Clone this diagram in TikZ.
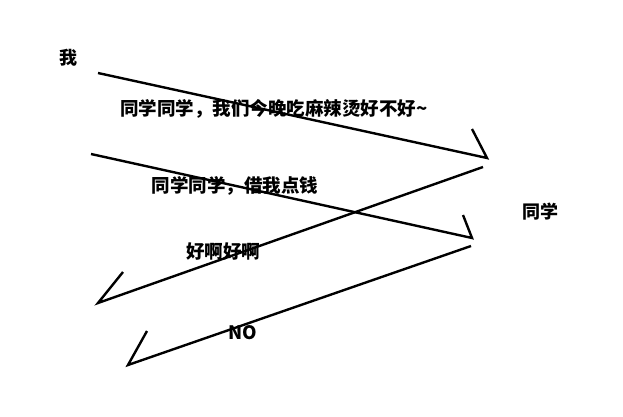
\documentclass[tikz,border=0pt]{standalone}
\usepackage{fontspec}
\newfontfamily\cjk{Noto Sans CJK SC}
\usepackage{tikz}

\begin{document}
\begin{tikzpicture}[x=1pt, y=-1pt,
        who/.style={font=\cjk\bfseries\fontsize{18}{20}\selectfont, inner sep=0pt},
        msg/.style={font=\cjk\bfseries\fontsize{18.5}{21}\selectfont, inner sep=0pt},
        sketch/.style={line width=2.4pt, line join=miter}]
        \useasboundingbox (0,0) rectangle (623,417);

        % People
        \node[who] (me) at (68,58) {我};
        \node[who] (mate) at (540,212) {同学};

        % Ends of the strokes
        \coordinate (s1) at (98,73);   \coordinate (e1) at (487,158); \coordinate (b1) at (472,129);
        \coordinate (s2) at (91,154);  \coordinate (e2) at (472,238); \coordinate (b2) at (463,215);
        \coordinate (s3) at (483,167); \coordinate (e3) at (98,303);  \coordinate (b3) at (123,272);
        \coordinate (s4) at (471,246); \coordinate (e4) at (128,365); \coordinate (b4) at (147,331);

        % Strokes, each with one barb
        \draw[sketch] (s1) -- (e1) -- (b1);
        \draw[sketch] (s2) -- (e2) -- (b2);
        \draw[sketch] (s3) -- (e3) -- (b3);
        \draw[sketch] (s4) -- (e4) -- (b4);

        % Messages
        \node[msg] (ask) at (274,109) {同学同学，我们今晚吃麻辣烫好不好\textasciitilde};
        \node[msg] (borrow) at (235,186) {同学同学，借我点钱};
        \node[msg] (yes) at (223,252) {好啊好啊};
        \node[msg] (no) at (243,333) {NO};
    \end{tikzpicture}
\end{document}
